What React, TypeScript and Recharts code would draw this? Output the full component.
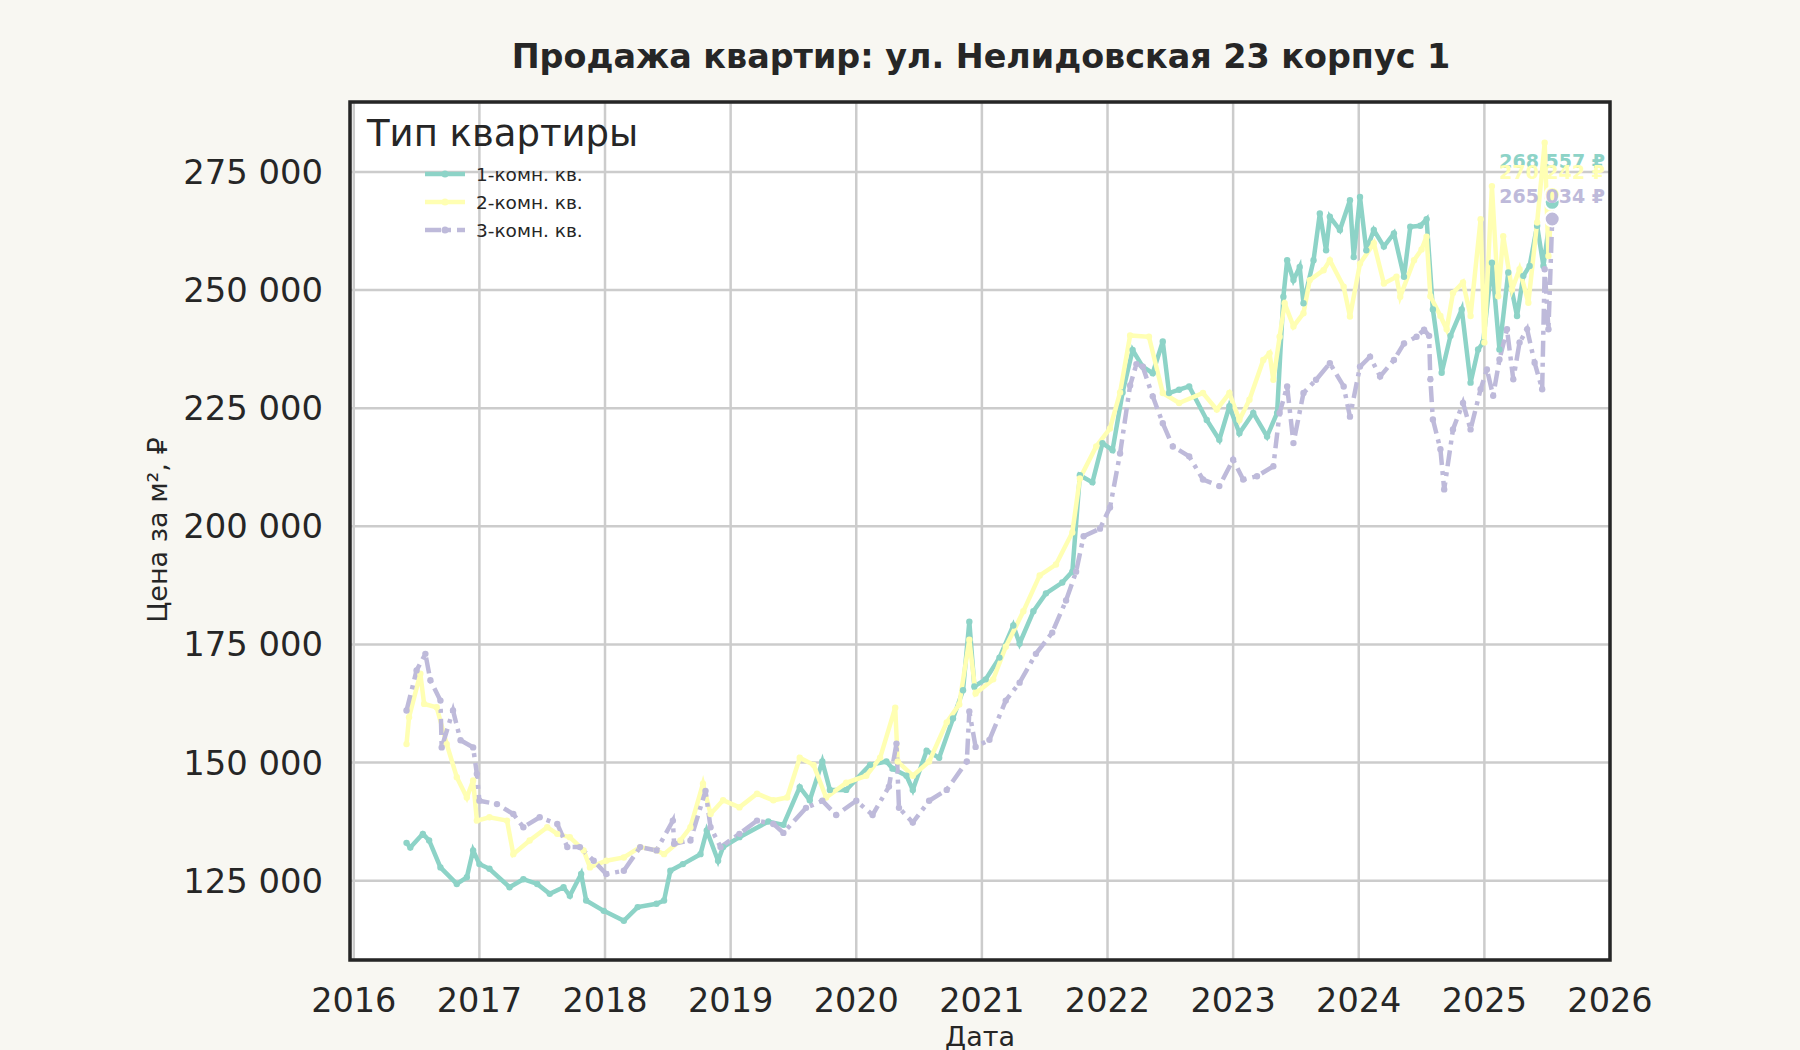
import React from 'react'
import {
  LineChart,
  Line,
  XAxis,
  YAxis,
  CartesianGrid,
  Legend,
  LabelList,
  ReferenceArea,
} from 'recharts'

// 1-комн. кв.: дата (доля года) и цена за м²
const oneRoomDates = [
  2016.42, 2016.45, 2016.55, 2016.6, 2016.69, 2016.82, 2016.9, 2016.95, 2017.0, 2017.08,
  2017.24, 2017.35, 2017.46, 2017.56, 2017.67, 2017.72, 2017.81, 2017.85, 2017.99, 2018.15,
  2018.26, 2018.41, 2018.47, 2018.52, 2018.62, 2018.76, 2018.81, 2018.9, 2018.94, 2019.07,
  2019.3, 2019.42, 2019.55, 2019.63, 2019.73, 2019.79, 2019.92, 2020.11, 2020.24, 2020.29,
  2020.4, 2020.45, 2020.56, 2020.66, 2020.77, 2020.85, 2020.9, 2020.94, 2021.03, 2021.14,
  2021.25, 2021.3, 2021.41, 2021.51, 2021.64, 2021.72, 2021.78, 2021.88, 2021.96, 2022.04,
  2022.12, 2022.2, 2022.28, 2022.36, 2022.44, 2022.49, 2022.57, 2022.65, 2022.79, 2022.89,
  2022.97, 2023.05, 2023.16, 2023.27, 2023.35, 2023.4, 2023.43, 2023.48, 2023.53, 2023.56,
  2023.64, 2023.69, 2023.74, 2023.77, 2023.85, 2023.93, 2023.96, 2024.01, 2024.06, 2024.12,
  2024.2, 2024.28, 2024.36, 2024.41, 2024.49, 2024.54, 2024.59, 2024.66, 2024.73, 2024.82,
  2024.89, 2024.95, 2024.99, 2025.06, 2025.12, 2025.19, 2025.26, 2025.31, 2025.36, 2025.42,
  2025.47, 2025.54,
]
const oneRoomPrices = [
  133000, 132000, 134900, 133500, 127800, 124300, 125700, 131400, 128500, 127500,
  123600, 125300, 124300, 122200, 123600, 121800, 126400, 120800, 118600, 116500,
  119400, 120100, 120800, 127100, 128500, 130600, 135600, 129200, 132100, 134200,
  137500, 136800, 144800, 142000, 150200, 144200, 144200, 149500, 150200, 148700,
  147200, 144200, 152500, 151000, 159300, 165300, 179800, 166100, 167600, 172200,
  179000, 175200, 182000, 185800, 188100, 190400, 210800, 209300, 217600, 216100,
  228300, 237300, 233800, 232400, 239100, 228200, 228900, 229600, 222500, 218300,
  225400, 219700, 224000, 219000, 224000, 248600, 256300, 252100, 254900, 247200,
  256300, 266200, 258400, 265500, 262700, 269000, 257000, 269700, 258400, 262700,
  259200, 262000, 252800, 263400, 263600, 265000, 245900, 232500, 240300, 245900,
  230400, 237400, 238900, 255800, 237400, 253700, 244500, 253000, 255100, 263600,
  255100, 268557,
]

// 2-комн. кв.
const twoRoomDates = [
  2016.42, 2016.44, 2016.53, 2016.56, 2016.66, 2016.74, 2016.82, 2016.9, 2016.95, 2016.98,
  2017.08, 2017.22, 2017.27, 2017.4, 2017.54, 2017.62, 2017.72, 2017.83, 2017.88, 2018.01,
  2018.15, 2018.28, 2018.41, 2018.47, 2018.6, 2018.68, 2018.78, 2018.84, 2018.94, 2019.07,
  2019.21, 2019.34, 2019.45, 2019.55, 2019.66, 2019.76, 2019.92, 2020.08, 2020.19, 2020.31,
  2020.33, 2020.45, 2020.58, 2020.72, 2020.82, 2020.9, 2020.95, 2021.09, 2021.19, 2021.33,
  2021.46, 2021.59, 2021.72, 2021.78, 2021.91, 2022.02, 2022.1, 2022.18, 2022.33, 2022.44,
  2022.57, 2022.76, 2022.87, 2022.97, 2023.05, 2023.13, 2023.24, 2023.29, 2023.32, 2023.37,
  2023.41, 2023.48, 2023.56, 2023.61, 2023.72, 2023.77, 2023.88, 2023.93, 2024.01, 2024.12,
  2024.2, 2024.3, 2024.33, 2024.44, 2024.5, 2024.54, 2024.57, 2024.65, 2024.7, 2024.75,
  2024.83, 2024.89, 2024.97, 2025.0, 2025.06, 2025.11, 2025.15, 2025.22, 2025.28, 2025.35,
  2025.42, 2025.48, 2025.51, 2025.54,
]
const twoRoomPrices = [
  153900, 159600, 168800, 162400, 161700, 153900, 146900, 142600, 146200, 137700,
  138400, 137700, 130600, 133500, 136300, 134900, 134200, 131400, 127800, 129200,
  129900, 132100, 131400, 130600, 133500, 136300, 145500, 139100, 142000, 140500,
  143400, 142000, 142600, 151000, 149500, 142600, 145700, 147200, 151000, 161600,
  150200, 147200, 150200, 158500, 162300, 176000, 164600, 167600, 174500, 182000,
  189600, 191900, 198700, 210100, 216900, 220700, 228300, 240400, 240100, 228200,
  226100, 228200, 224700, 228200, 222500, 226800, 235200, 236600, 231000, 240100,
  247200, 242300, 245100, 252100, 254200, 256300, 250700, 244400, 255600, 259900,
  251400, 252800, 248600, 256300, 258600, 261300, 248700, 244500, 241700, 249400,
  251600, 244500, 265000, 238900, 272000, 248700, 261400, 250100, 254400, 247300,
  264300, 281200, 257200, 270242,
]

// 3-комн. кв.
const threeRoomDates = [
  2016.42, 2016.5, 2016.57, 2016.61, 2016.69, 2016.7, 2016.79, 2016.85, 2016.95, 2016.98,
  2017.0, 2017.14, 2017.27, 2017.35, 2017.48, 2017.62, 2017.7, 2017.8, 2017.91, 2018.01,
  2018.15, 2018.28, 2018.41, 2018.54, 2018.55, 2018.68, 2018.8, 2018.84, 2018.92, 2019.07,
  2019.21, 2019.34, 2019.42, 2019.6, 2019.73, 2019.84, 2020.0, 2020.13, 2020.26, 2020.32,
  2020.34, 2020.45, 2020.58, 2020.72, 2020.88, 2020.9, 2020.95, 2021.06, 2021.19, 2021.3,
  2021.43, 2021.56, 2021.67, 2021.75, 2021.81, 2021.94, 2022.02, 2022.1, 2022.18, 2022.23,
  2022.28, 2022.36, 2022.44, 2022.52, 2022.65, 2022.76, 2022.89, 2023.0, 2023.08, 2023.19,
  2023.32, 2023.37, 2023.43, 2023.48, 2023.56, 2023.66, 2023.77, 2023.88, 2023.93, 2024.01,
  2024.09, 2024.17, 2024.28, 2024.36, 2024.46, 2024.52, 2024.56, 2024.57, 2024.59, 2024.65,
  2024.68, 2024.75, 2024.83, 2024.89, 2024.97, 2025.02, 2025.07, 2025.12, 2025.18, 2025.23,
  2025.28, 2025.34, 2025.4, 2025.46, 2025.48, 2025.51, 2025.54,
]
const threeRoomPrices = [
  161000, 169500, 173000, 167400, 163100, 153200, 161000, 154700, 153200, 147600,
  141900, 141200, 139100, 136300, 138400, 137000, 132100, 132100, 129200, 126400,
  127100, 132100, 131400, 137700, 132800, 133500, 144000, 136300, 132100, 134900,
  137700, 137000, 135100, 140400, 141900, 138900, 141900, 138900, 144900, 154000,
  140400, 137300, 141900, 144200, 150200, 160800, 153300, 154800, 163100, 166900,
  173000, 177500, 184300, 190400, 197900, 199500, 204000, 215400, 229800, 234300,
  233800, 227500, 221800, 216900, 214800, 209900, 208500, 214100, 209900, 210600,
  212700, 224000, 229600, 217600, 228200, 231000, 234500, 229600, 223200, 233800,
  235900, 231700, 235200, 238700, 240100, 241600, 240300, 231100, 222600, 216300,
  207800, 220500, 226100, 220500, 229000, 233200, 227600, 235300, 241700, 231100,
  238900, 241700, 234600, 229000, 254400, 241700, 265034,
]

const yearTicks = [2016, 2017, 2018, 2019, 2020, 2021, 2022, 2023, 2024, 2025, 2026]
const priceTicks = [125000, 150000, 175000, 200000, 225000, 250000, 275000]

const X_DOMAIN: [number, number] = [2015.97, 2026]
const Y_DOMAIN: [number, number] = [108200, 289800]

const FONT = '"DejaVu Sans", sans-serif'
const INK = '#262626'

const SERIES = [
  { key: 'one', name: '1-комн. кв.', dates: oneRoomDates, prices: oneRoomPrices, color: '#8dd3c7', dash: undefined, labelLift: 41 },
  { key: 'two', name: '2-комн. кв.', dates: twoRoomDates, prices: twoRoomPrices, color: '#ffffb3', dash: undefined, labelLift: 22 },
  { key: 'three', name: '3-комн. кв.', dates: threeRoomDates, prices: threeRoomPrices, color: '#bebada', dash: '16 6 4 6', labelLift: 23 },
]

const fmt = (v: number) => String(Math.round(v)).replace(/\B(?=(\d{3})+(?!\d))/g, ' ')

type Series = (typeof SERIES)[number]

const makeDot = (s: Series) => (props: any) => {
  const { cx, cy, index } = props
  if (cx == null || cy == null) return <g key={`${s.key}-d-${index}`} />
  const last = index === s.dates.length - 1
  return (
    <circle
      key={`${s.key}-d-${index}`}
      cx={cx}
      cy={cy}
      r={last ? 7.5 : 3.2}
      fill={s.color}
      stroke={last ? '#ffffff' : 'none'}
      strokeWidth={last ? 2 : 0}
    />
  )
}

const makeEndLabel = (s: Series) => (props: any) => {
  const { x, y, index, value } = props
  if (index !== s.dates.length - 1) return null
  return (
    <text
      x={x}
      y={y - s.labelLift}
      textAnchor="middle"
      dominantBaseline="central"
      fill={s.color}
      fontSize={19}
      fontWeight="bold"
      fontFamily={FONT}
    >
      {fmt(value)} ₽
    </text>
  )
}

function LegendBox({ payload }: any) {
  const items = payload ?? []
  return (
    <div style={{ fontFamily: FONT, color: INK }}>
      <div style={{ fontSize: 37, lineHeight: '37px', whiteSpace: 'nowrap' }}>Тип квартиры</div>
      <div style={{ height: 8 }} />
      {items.map((entry: any) => {
        const s = SERIES.find((d) => d.name === entry.value)
        if (!s) return null
        return (
          <div
            key={s.key}
            style={{ display: 'flex', alignItems: 'center', height: 28, paddingLeft: 58 }}
          >
            <svg width={40} height={12}>
              <line
                x1={0}
                y1={6}
                x2={40}
                y2={6}
                stroke={s.color}
                strokeWidth={4.5}
                strokeDasharray={s.dash}
              />
              <circle cx={20} cy={6} r={3.5} fill={s.color} />
            </svg>
            <span style={{ marginLeft: 11, fontSize: 18.5, whiteSpace: 'nowrap' }}>{s.name}</span>
          </div>
        )
      })}
    </div>
  )
}

export default function App() {
  return (
    <div
      style={{
        position: 'absolute',
        left: 0,
        top: 0,
        width: 1800,
        height: 1050,
        background: '#f8f7f2',
        overflow: 'hidden',
        fontFamily: FONT,
      }}
    >
      <LineChart
        width={1800}
        height={1050}
        margin={{ top: 102, right: 190, bottom: 40, left: 50 }}
      >
        <CartesianGrid stroke="#cccccc" strokeWidth={2.5} fill="#ffffff" />
        <XAxis
          type="number"
          dataKey="t"
          domain={X_DOMAIN}
          ticks={yearTicks}
          allowDataOverflow
          height={50}
          axisLine={false}
          tickLine={false}
          tickSize={0}
          tickMargin={28}
          tick={{ fontSize: 33.5, fill: INK, fontFamily: FONT }}
        />
        <YAxis
          type="number"
          domain={Y_DOMAIN}
          ticks={priceTicks}
          allowDataOverflow
          width={300}
          axisLine={false}
          tickLine={false}
          tickSize={0}
          tickMargin={27}
          tickFormatter={fmt}
          tick={{ fontSize: 33.8, fill: INK, fontFamily: FONT }}
        />
        <ReferenceArea
          x1={X_DOMAIN[0]}
          x2={X_DOMAIN[1]}
          y1={Y_DOMAIN[0]}
          y2={Y_DOMAIN[1]}
          fill="none"
          stroke={INK}
          strokeWidth={3.5}
        />
        {SERIES.map((s) => (
          <Line
            key={s.key}
            name={s.name}
            data={s.dates.map((t, i) => ({ t, v: s.prices[i] }))}
            dataKey="v"
            type="linear"
            stroke={s.color}
            strokeWidth={4.5}
            strokeDasharray={s.dash}
            dot={makeDot(s)}
            activeDot={false}
            isAnimationActive={false}
          >
            <LabelList dataKey="v" content={makeEndLabel(s)} />
          </Line>
        ))}
        <Legend
          layout="vertical"
          align="center"
          verticalAlign="middle"
          wrapperStyle={{ left: 367, top: 115, width: 'auto' }}
          content={<LegendBox />}
        />
      </LineChart>

      <div
        style={{
          position: 'absolute',
          left: 981,
          top: 57,
          transform: 'translate(-50%, -50%)',
          fontSize: 33.4,
          fontWeight: 'bold',
          lineHeight: 1,
          color: INK,
          whiteSpace: 'nowrap',
        }}
      >
        Продажа квартир: ул. Нелидовская 23 корпус 1
      </div>
      <div
        style={{
          position: 'absolute',
          left: 157,
          top: 530,
          transform: 'translate(-50%, -50%) rotate(-90deg)',
          fontSize: 27,
          lineHeight: 1,
          color: INK,
          whiteSpace: 'nowrap',
        }}
      >
        Цена за м², ₽
      </div>
      <div
        style={{
          position: 'absolute',
          left: 980,
          top: 1036,
          transform: 'translate(-50%, -50%)',
          fontSize: 27,
          lineHeight: 1,
          color: INK,
          whiteSpace: 'nowrap',
        }}
      >
        Дата
      </div>
    </div>
  )
}
